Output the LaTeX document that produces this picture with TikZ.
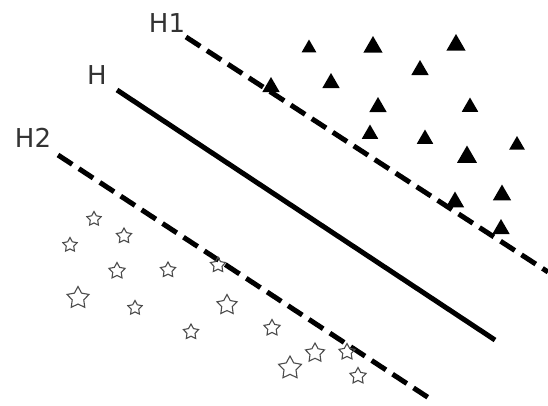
\documentclass[tikz,border=0pt]{standalone}
\usepackage{fontspec}
\setmainfont{DejaVu Sans}
\usetikzlibrary{shapes.geometric}
\begin{document}
\begin{tikzpicture}[x=1pt,y=-1pt,
  lbl/.style={font=\fontsize{26}{30}\selectfont, text=black!80, inner sep=0pt},
  tri/.style={regular polygon, regular polygon sides=3, fill=black, inner sep=0pt, minimum size=#1},
  tri/.default=18,
  st/.style={star, star points=5, star point ratio=1.9, draw=black!70, line width=1.1pt, inner sep=0pt, minimum size=#1},
  st/.default=14,
  solidline/.style={line width=5pt, line cap=butt},
  dashline/.style={line width=5pt, dash pattern=on 17pt off 8pt}]
\fill[white] (0,0) rectangle (548,405);
\useasboundingbox (0,0) rectangle (548,405);
% hyperplanes
\coordinate (h1a) at (186,37);  \coordinate (h1b) at (548,272);
\coordinate (ha) at (117,90);   \coordinate (hb) at (495,340);
\coordinate (h2a) at (58,155);  \coordinate (h2b) at (432,400);
\draw[dashline] (h1a) -- (h1b);
\draw[solidline] (ha) -- (hb);
\draw[dashline] (h2a) -- (h2b);
% labels
\node[lbl] (lH1) at (167,23) {H1};
\node[lbl] (lH) at (97,75) {H};
\node[lbl] (lH2) at (33,138) {H2};
% triangles
\node[tri=17] (t1) at (309,48) {};
\node[tri=22] (t2) at (373,47) {};
\node[tri=22] (t3) at (456,45) {};
\node[tri=20] (t4) at (420,70) {};
\node[tri=20] (t5) at (331,83) {};
\node[tri=20] (t6) at (378,107) {};
\node[tri=19] (t7) at (470,107) {};
\node[tri=19] (t8) at (370,134) {};
\node[tri=19] (t9) at (425,139) {};
\node[tri=18] (t10) at (517,145) {};
\node[tri=23] (t11) at (467,157) {};
\node[tri=21] (t12) at (502,195) {};
\node[tri=21] (t13) at (455,202) {};
\node[tri=20] (t14) at (501,229) {};
\node[tri=20] (t15) at (271,87) {};
% stars
\node[st=15] (s1) at (94,219) {};
\node[st=15] (s2) at (70,245) {};
\node[st=16] (s3) at (124,236) {};
\node[st=17] (s4) at (117,271) {};
\node[st=16] (s5) at (168,270) {};
\node[st=16] (s6) at (218,265) {};
\node[st=23] (s7) at (78,298) {};
\node[st=15] (s8) at (135,308) {};
\node[st=21] (s9) at (227,305) {};
\node[st=16] (s10) at (191,332) {};
\node[st=17] (s11) at (272,328) {};
\node[st=20] (s12) at (315,353) {};
\node[st=17] (s13) at (347,352) {};
\node[st=24] (s14) at (290,368) {};
\node[st=17] (s15) at (358,376) {};
\end{tikzpicture}
\end{document}
